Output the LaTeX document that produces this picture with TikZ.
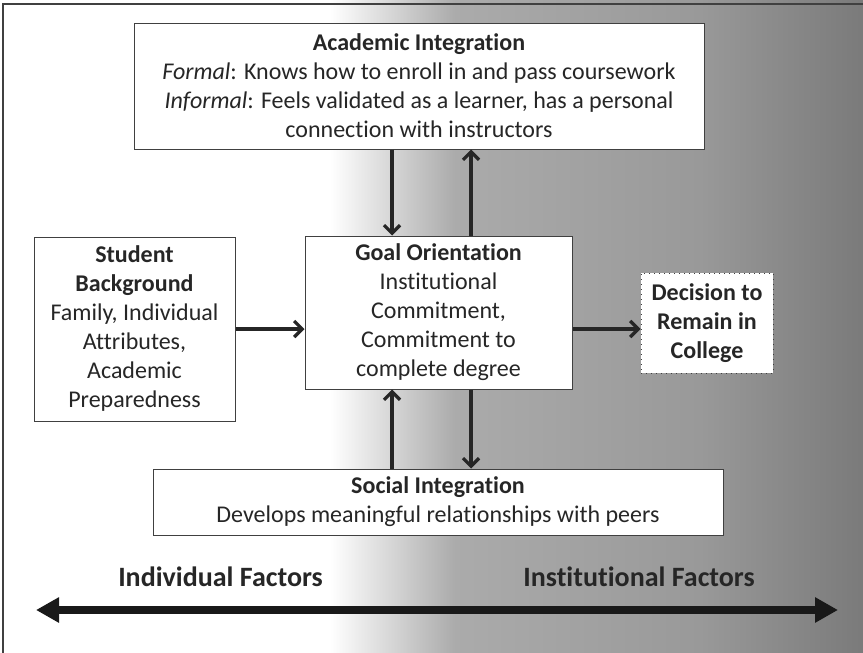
\documentclass[tikz,border=0pt]{standalone}
\usepackage{fontspec}
\setmainfont{Carlito}[Ligatures=NoCommon]
\usepackage{tikz}
\usetikzlibrary{arrows.meta, positioning}

\begin{document}
\begin{tikzpicture}[x=0.5pt,y=-0.5pt,
    box/.style={draw=black!75,line width=0.5pt,fill=white,align=center,inner sep=0pt,
      text=black!85,font=\fontsize{12}{14.5}\selectfont},
    decbox/.style={box,dotted},
    link/.style={draw=black!85,line width=1.6pt,-{Straight Barb[length=4pt,width=8pt]}},
    bigarrow/.style={draw=black!90,line width=4pt,{Triangle[length=11.5pt,width=12pt]}-{Triangle[length=11.5pt,width=12pt]}},
    factor/.style={font=\fontsize{14}{17}\selectfont\bfseries,text=black!85}]
  \useasboundingbox (0,0) rectangle (863,653);
  \clip (0,0) rectangle (863,653);
  % background
  \fill[white] (0,0) rectangle (330,653);
  \shade[left color=white,right color=black!33] (330,0) rectangle (455,653);
  \shade[left color=black!33,right color=black!40] (455,0) rectangle (700,653);
  \shade[left color=black!40,right color=black!52] (700,0) rectangle (863,653);
  \draw[black!75,line width=0.8pt] (3,670) -- (3,4) -- (880,4);

  \node[box,minimum width=285pt,minimum height=63pt] (acad) at (419,86)
    {\textbf{Academic Integration}\\ \textit{Formal}: Knows how to enroll in and pass coursework\\
     \textit{Informal}: Feels validated as a learner, has a personal\\ connection with instructors};
  \node[box,minimum width=133.5pt,minimum height=76.5pt] (goal) at (438.5,312.5)
    {\textbf{Goal Orientation}\\ Institutional\\ Commitment,\\ Commitment to\\ complete degree};
  \node[box,minimum width=100.5pt,minimum height=92pt] (back) at (134.5,329)
    {\textbf{Student}\\ \textbf{Background}\\ Family, Individual\\ Attributes,\\ Academic\\ Preparedness};
  \node[decbox,minimum width=66pt,minimum height=50pt] (decide) at (707,323)
    {\textbf{Decision to}\\ \textbf{Remain in}\\ \textbf{College}};
  \node[box,minimum width=285pt,minimum height=33pt] (social) at (438,502)
    {\textbf{Social Integration}\\ Develops meaningful relationships with peers};

  \node[factor] (indiv) at (220.5,577) {Individual Factors};
  \node[factor] (inst) at (639,577) {Institutional Factors};

  \coordinate (lx) at (392,0);
  \coordinate (rx) at (471,0);
  \coordinate (lend) at (36,610);
  \coordinate (rend) at (838,610);

  \path[link] (acad.south -| lx) -- (goal.north -| lx);
  \path[link] (goal.north -| rx) -- (acad.south -| rx);
  \path[link] (social.north -| lx) -- (goal.south -| lx);
  \path[link] (goal.south -| rx) -- (social.north -| rx);
  \path[link] (back.east) -- (back.east -| goal.west);
  \path[link] (goal.east |- back.east) -- (decide.west |- back.east);
  \draw[bigarrow] (lend) -- (rend);
\end{tikzpicture}
\end{document}
